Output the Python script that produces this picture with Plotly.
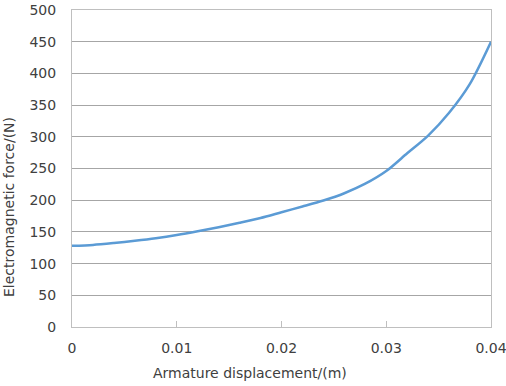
import plotly.graph_objects as go

# Data
displacement = [0.000, 0.002, 0.004, 0.006, 0.008, 0.010, 0.012, 0.014, 0.016, 0.018,
                0.020, 0.022, 0.024, 0.026, 0.028, 0.030, 0.032, 0.034, 0.036, 0.038, 0.040]
force = [128, 129.5, 132.5, 136, 140, 145, 151, 157.5, 164.5, 172,
         181, 190, 199.5, 211, 226, 246, 274, 302, 338, 384, 450]

x_ticks = [0, 0.01, 0.02, 0.03, 0.04]
x_tick_labels = ["0", "0.01", "0.02", "0.03", "0.04"]
y_ticks = [0, 50, 100, 150, 200, 250, 300, 350, 400, 450, 500]

x_title = "Armature displacement/(m)"
y_title = "Electromagnetic force/(N)"

FONT = "DejaVu Sans"
TXT = "#404040"
FS = 14

fig = go.Figure()
fig.add_trace(go.Scatter(
    x=displacement, y=force, mode="lines",
    line=dict(color="#5B9BD5", width=2.5, shape="spline", smoothing=0.8),
    showlegend=False, hoverinfo="skip"))

fig.update_layout(
    width=506, height=386,
    margin=dict(l=72, r=15, t=10, b=59, autoexpand=False),
    paper_bgcolor="white", plot_bgcolor="white",
    font=dict(family=FONT, size=FS, color=TXT),
    xaxis=dict(range=[0, 0.04], tickvals=x_ticks, ticktext=x_tick_labels,
               showgrid=False, zeroline=False, automargin=False,
               showline=True, linecolor="#bfbfbf", linewidth=1, mirror=True,
               ticks="inside", ticklen=6, tickcolor="#bfbfbf",
               ticklabelstandoff=8, ticklabeloverflow="allow",
               tickfont=dict(family=FONT, size=FS, color=TXT)),
    yaxis=dict(range=[0, 500], tickvals=y_ticks,
               showgrid=True, gridcolor="#a6a6a6", gridwidth=1, zeroline=False,
               automargin=False,
               showline=True, linecolor="#bfbfbf", linewidth=1, mirror=True,
               ticks="", ticklabelstandoff=12, ticklabeloverflow="allow",
               tickfont=dict(family=FONT, size=FS, color=TXT)),
    annotations=[
        dict(text=x_title, xref="paper", yref="paper",
             x=(250 - 72) / 419, y=-(373 - 327) / 317,
             xanchor="center", yanchor="middle", showarrow=False,
             font=dict(family=FONT, size=FS, color=TXT)),
        dict(text=y_title, xref="paper", yref="paper", textangle=-90,
             x=-(72 - 9) / 419, y=(327 - 207) / 317,
             xanchor="center", yanchor="middle", showarrow=False,
             font=dict(family=FONT, size=FS, color=TXT)),
    ],
)

fig.write_html("out.html")
